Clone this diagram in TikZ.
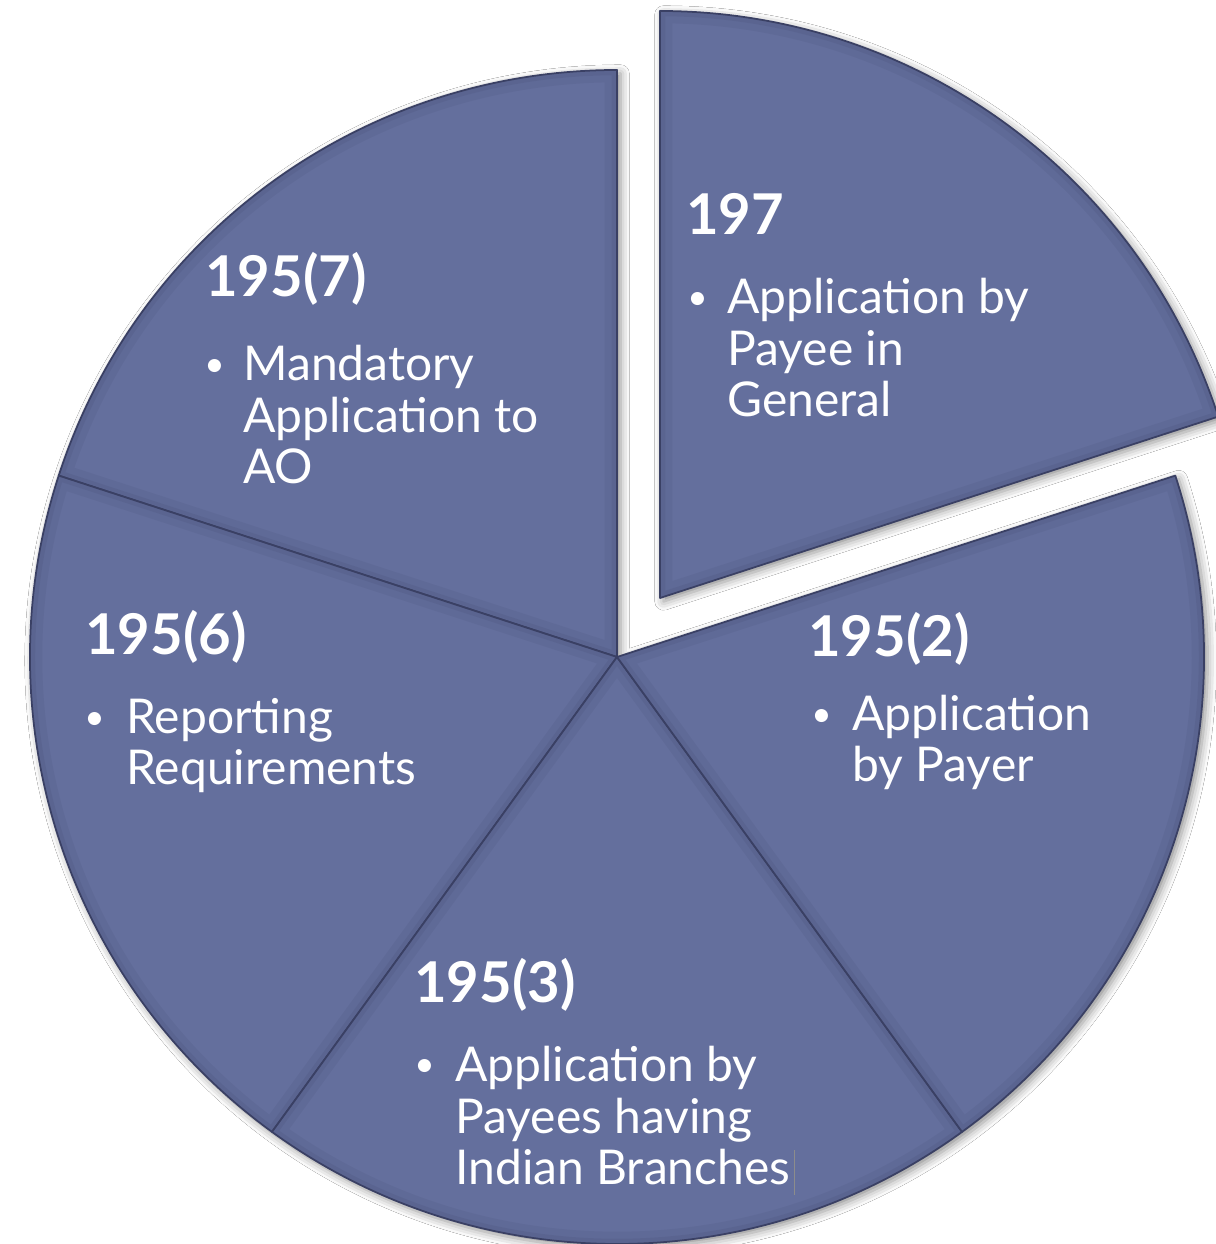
\documentclass[tikz,border=0pt]{standalone}
\usepackage{fontspec}
\setmainfont{Lato}
\usetikzlibrary{shadows.blur}
\definecolor{slicefill}{RGB}{100,111,157}
\definecolor{sliceedge}{RGB}{58,64,100}
\tikzset{
  slice/.style={fill=slicefill, line join=round},
  sliceline/.style={draw=sliceedge, line width=1pt, line join=round},
  pieshadow/.style={blur shadow={shadow xshift=2pt, shadow yshift=-2pt,
      shadow blur radius=5pt, shadow opacity=45}},
  head/.style={text=white, font=\fontsize{32}{36}\selectfont\bfseries,
      anchor=base west, inner sep=0pt},
  bulletmark/.style={text=white, font=\fontsize{20}{24}\selectfont,
      anchor=base west, inner sep=0pt},
  body/.style={text=white, font=\fontsize{27.3}{29.5}\selectfont,
      anchor=base west, inner sep=0pt, align=left},
}
% one wedge: apex, start angle, end angle; filled, darkened towards its rim, outlined
\newcommand\pwedge[3]{%
  \path[slice] (#1) -- ++(#2:\R) arc[start angle=#2, end angle=#3, radius=\R] -- cycle;
  \begin{scope}
    \clip (#1) -- ++(#2:\R) arc[start angle=#2, end angle=#3, radius=\R] -- cycle;
    \draw[sliceedge, line width=14pt, opacity=0.10]
      (#1) -- ++(#2:\R) arc[start angle=#2, end angle=#3, radius=\R] -- cycle;
    \draw[sliceedge, line width=6pt, opacity=0.12]
      (#1) -- ++(#2:\R) arc[start angle=#2, end angle=#3, radius=\R] -- cycle;
  \end{scope}
  \path[sliceline] (#1) -- ++(#2:\R) arc[start angle=#2, end angle=#3, radius=\R] -- cycle;
}
\begin{document}
\begin{tikzpicture}[x=0.02cm, y=0.02cm]
  \useasboundingbox (0,0) rectangle (1216,1244);
  \clip (0,0) rectangle (1216,1244);
  \fill[white] (0,0) rectangle (1216,1244);
  \def\R{587}
  \coordinate (c) at (617,587);
  \coordinate (cx) at (660,646);

  % soft shadows under the pie and under the pulled-out slice
  \path[pieshadow, fill=slicefill] (c) -- ++(18:\R)
      arc[start angle=18, end angle=-270, radius=\R] -- cycle;
  \path[pieshadow, fill=slicefill] (cx) -- ++(18:\R)
      arc[start angle=18, end angle=90, radius=\R] -- cycle;

  % the five equal slices
  \pwedge{cx}{18}{90}
  \pwedge{c}{90}{162}
  \pwedge{c}{162}{234}
  \pwedge{c}{234}{306}
  \pwedge{c}{306}{378}

  % 197
  \node[head] (h197) at (686,1009) {197};
  \node[bulletmark] (b197) at (687,934) {•};
  \node[body] (t197) at (727,827) {Application by\\Payee in\\General};

  % 195(7)
  \node[head] (h1957) at (205,947) {195(7)};
  \node[bulletmark] (b1957) at (204,867) {•};
  \node[body] (t1957) at (243,760) {Mandatory\\Application to\\AO};

  % 195(6)
  \node[head] (h1956) at (85,589) {195(6)};
  \node[bulletmark] (b1956) at (84,514) {•};
  \node[body] (t1956) at (126,459) {Reporting\\Requirements};

  % 195(2)
  \node[head] (h1952) at (808,587) {195(2)};
  \node[bulletmark] (b1952) at (811,517) {•};
  \node[body] (t1952) at (852,462) {Application\\by Payer};

  % 195(3)
  \node[head] (h1953) at (414,241) {195(3)};
  \node[bulletmark] (b1953) at (414,167) {•};
  \node[body] (t1953) at (455,59) {Application by\\Payees having\\Indian Branches};
  % text cursor after the last word
  \draw[black!45, line width=0.5pt] ([xshift=2pt]t1953.south east |- 0,94) -- ([xshift=2pt]t1953.south east |- 0,49);
\end{tikzpicture}
\end{document}
